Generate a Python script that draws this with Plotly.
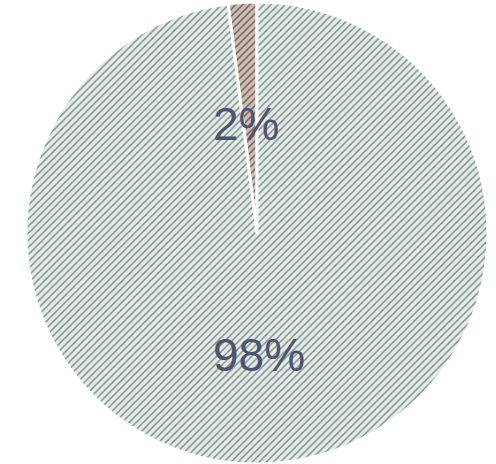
import math
import plotly.graph_objects as go

labels = ["A", "B"]
values = [2, 98]
text_labels = ["2%", "98%"]
bg_colors = ["#cbbfb9", "#e6ecea"]
fg_colors = ["#7a5e55", "#7f958e"]

total = sum(values)
frac = values[0] / total

fig = go.Figure(go.Pie(
    labels=labels,
    values=values,
    textinfo="none",
    sort=False,
    direction="clockwise",
    rotation=-360 * frac,
    marker=dict(
        colors=bg_colors,
        line=dict(color="white", width=3),
        pattern=dict(shape="/", fgcolor=fg_colors, bgcolor=bg_colors, size=5, solidity=0.3),
    ),
    showlegend=False,
    domain=dict(x=[0, 1], y=[0, 1]),
))

W, H = 496, 464
ml, mr, mt, mb = 22, 4, 2, 0
pw, ph = W - ml - mr, H - mt - mb
R = min(pw, ph) / 2

# label positions: mid-angle of each slice (clockwise from top), fraction of radius
start = -360 * frac
label_r = [0.475, 0.53]
label_adj = [-2.0, 2.8]
for i, v in enumerate(values):
    span = 360 * v / total
    mid = start + span / 2 + label_adj[i]
    start += span
    a = math.radians(mid)
    r = label_r[i] * R
    dx, dy = r * math.sin(a), r * math.cos(a)
    fig.add_annotation(
        x=0.5 + dx / pw, y=0.5 + dy / ph, xref="paper", yref="paper",
        xanchor="center", yanchor="middle",
        text=text_labels[i], showarrow=False,
        font=dict(family="Liberation Sans, Arial", size=46, color="#4e5370"),
    )

fig.update_layout(
    width=W, height=H,
    margin=dict(l=ml, r=mr, t=mt, b=mb),
    paper_bgcolor="white",
)
fig.write_html("out.html", config={"displayModeBar": False},
               post_script="document.body.style.margin='0';")
